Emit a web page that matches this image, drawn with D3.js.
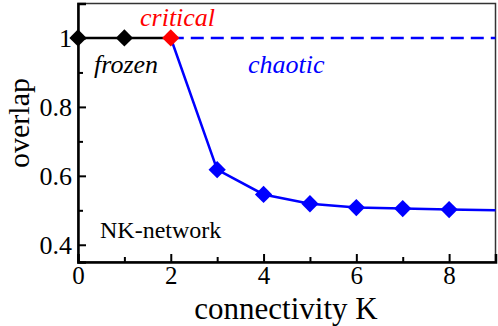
<!DOCTYPE html>
<html><head><meta charset="utf-8">
<script src="https://cdn.jsdelivr.net/npm/d3@7"></script>
<style>body{margin:0;background:#fff} svg text{font-family:"Liberation Serif","Times New Roman",serif !important;}</style>
</head><body>
<svg id="c" width="498" height="326"></svg>
<script>
const frozenK = [0, 1, 2];
const frozenV = [1, 1, 1];
const chaoticK = [2, 3, 4, 5, 6, 7, 8, 9];
const chaoticV = [1, 0.618, 0.546, 0.519, 0.508, 0.505, 0.502, 0.500];
const markerK = [3, 4, 5, 6, 7, 8];
const markerV = [0.618, 0.546, 0.519, 0.508, 0.505, 0.502];
const dashK = [2, 9];
const dashV = [1, 1];
const xTicks = [0, 2, 4, 6, 8];
const xMinor = [1, 3, 5, 7];
const yTicks = [0.4, 0.6, 0.8, 1];
const yMinor = [0.5, 0.7, 0.9];

const svg = d3.select("#c");
const L = 78, R = 495.5, T = 3.5, B = 262;
const x = d3.scaleLinear().domain([0, 9]).range([L, R]);
const y = d3.scaleLinear().domain([0.35, 1.1]).range([B, T]);

// frame
svg.append("rect").attr("x", L).attr("y", T).attr("width", R - L).attr("height", B - T)
  .attr("fill", "none").attr("stroke", "#333").attr("stroke-width", 1.5);

// axes
const gx = svg.append("g").attr("transform", `translate(0,${B})`)
  .call(d3.axisBottom(x).tickValues(xTicks).tickSize(-8).tickPadding(8).tickFormat(d3.format("d")));
svg.append("g").attr("transform", `translate(0,${B})`)
  .call(d3.axisBottom(x).tickValues(xMinor).tickSize(-5).tickFormat(""))
  .call(g => g.select(".domain").remove());
const gy = svg.append("g").attr("transform", `translate(${L},0)`)
  .call(d3.axisLeft(y).tickValues(yTicks).tickSize(-8).tickPadding(6).tickFormat(d => d === 1 ? "1" : d3.format(".1f")(d)));
svg.append("g").attr("transform", `translate(${L},0)`)
  .call(d3.axisLeft(y).tickValues(yMinor).tickSize(-5).tickFormat(""))
  .call(g => g.select(".domain").remove());
svg.selectAll("g").attr("font-family", null).attr("font-size", null);
svg.selectAll(".domain").attr("stroke", "#000").attr("stroke-width", 2.5);
svg.selectAll(".tick line").attr("stroke", "#000").attr("stroke-width", 2);
svg.selectAll(".tick text").style("font-size", "26px").attr("fill", "#000");
gx.selectAll(".tick text").style("font-size", "25px").attr("y", 0).attr("dy", "22px");
gy.selectAll(".tick text").attr("x", -6).attr("dy", "0.33em");

const line = d3.line().x(d => x(d[0])).y(d => y(d[1]));
// dashed chaotic reference
svg.append("path").datum(dashK.map((k, i) => [k, dashV[i]]))
  .attr("d", line).attr("fill", "none").attr("stroke", "#0000ff").attr("stroke-width", 2.5)
  .attr("stroke-dasharray", "13,7");
// frozen line
svg.append("path").datum(frozenK.map((k, i) => [k, frozenV[i]]))
  .attr("d", line).attr("fill", "none").attr("stroke", "#000").attr("stroke-width", 2.5);
// chaotic line
svg.append("path").datum(chaoticK.map((k, i) => [k, chaoticV[i]]))
  .attr("d", line).attr("fill", "none").attr("stroke", "#0000ff").attr("stroke-width", 2.5);

const diamond = d3.symbol().type(d3.symbolDiamond2).size(190);
svg.selectAll(".fm").data([0, 1]).join("path")
  .attr("transform", i => `translate(${x(frozenK[i])},${y(frozenV[i])})`)
  .attr("d", diamond).attr("fill", "#000");
svg.append("path").attr("transform", `translate(${x(2)},${y(1)})`)
  .attr("d", diamond).attr("fill", "#ff0000");
svg.selectAll(".cm").data(markerK).join("path")
  .attr("transform", (k, i) => `translate(${x(k)},${y(markerV[i])})`)
  .attr("d", diamond).attr("fill", "#0000ff");

// annotations
const txt = (s, px, py, col, italic, size) => svg.append("text").attr("x", px).attr("y", py)
  .style("font-size", size + "px").attr("fill", col)
  .style("font-style", italic ? "italic" : "normal").text(s);
txt("critical", 140, 26, "#ff0000", true, 26);
txt("frozen", 94, 73, "#000", true, 26);
txt("chaotic", 248, 73, "#0000ff", true, 26);
txt("NK-network", 100, 238, "#000", false, 24);

// axis titles
svg.append("text").attr("x", 286).attr("y", 319).attr("text-anchor", "middle")
  .style("font-size", "31px").text("connectivity K");
svg.append("text").attr("transform", "translate(29,123) rotate(-90)").attr("text-anchor", "middle")
  .style("font-size", "30px").text("overlap");
</script>
</body></html>
